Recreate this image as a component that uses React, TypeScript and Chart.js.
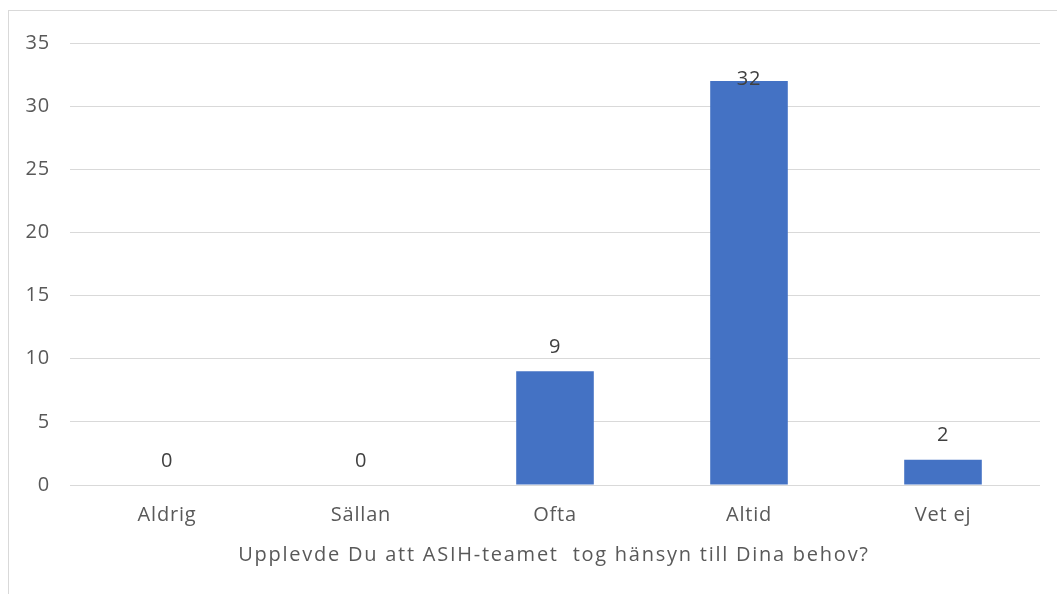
import React, { useEffect, useRef } from "react";
import { Chart, registerables } from "chart.js";

Chart.register(...registerables);

const categories = ["Aldrig", "Sällan", "Ofta", "Altid", "Vet ej"];
const values = [0, 0, 9, 32, 2];
const yTicks = [0, 5, 10, 15, 20, 25, 30, 35];
const axisTitle = "Upplevde Du att ASIH-teamet  tog hänsyn till Dina behov?";

const FONT = "'Open Sans', 'Noto Sans', sans-serif";
const FONT_SIZE = 20;

const textSpacing = {
  id: "textSpacing",
  beforeDraw(chart: any) {
    (chart.ctx as any).letterSpacing = "0.8px";
  },
};

const dataLabels = {
  id: "dataLabels",
  afterDatasetsDraw(chart: any) {
    const ctx = chart.ctx;
    const meta = chart.getDatasetMeta(0);
    const area = chart.chartArea;
    ctx.save();
    ctx.font = `${FONT_SIZE}px ${FONT}`;
    ctx.fillStyle = "#404040";
    ctx.textAlign = "center";
    ctx.textBaseline = "middle";
    meta.data.forEach((bar: any, i: number) => {
      const y = Math.max(bar.y - 24, area.top + 36);
      ctx.fillText(String(values[i]), bar.x, y);
    });
    ctx.restore();
  },
};

const axisTitlePlugin = {
  id: "axisTitlePlugin",
  afterDraw(chart: any) {
    const ctx = chart.ctx;
    const area = chart.chartArea;
    ctx.save();
    (ctx as any).letterSpacing = "1.75px";
    ctx.font = `${FONT_SIZE}px ${FONT}`;
    ctx.fillStyle = "#595959";
    ctx.textAlign = "center";
    ctx.textBaseline = "middle";
    ctx.fillText(axisTitle, (area.left + area.right) / 2 - 1, area.bottom + 70);
    ctx.restore();
  },
};

export default function App() {
  const ref = useRef<HTMLCanvasElement | null>(null);
  useEffect(() => {
    if (!ref.current) return;
    const chart = new Chart(ref.current, {
      type: "bar",
      data: {
        labels: categories,
        datasets: [
          {
            data: values,
            backgroundColor: "#4472C4",
            barPercentage: 0.4,
            categoryPercentage: 1,
          },
        ],
      },
      options: {
        animation: false,
        responsive: false,
        maintainAspectRatio: false,
        layout: { padding: { top: 26, right: 17, left: 0, bottom: 0 } },
        plugins: {
          legend: { display: false },
          tooltip: { enabled: false },
        },
        scales: {
          x: {
            grid: { display: false, drawTicks: false },
            border: { display: false },
            ticks: {
              color: "#595959",
              font: { family: FONT, size: FONT_SIZE },
              padding: 18,
            },
            title: { display: false, text: axisTitle },
            afterFit: (s: any) => {
              s.height = 109;
            },
          },
          y: {
            min: 0,
            max: 35,
            afterBuildTicks: (s: any) => {
              s.ticks = yTicks.map((v) => ({ value: v }));
            },
            grid: { color: "#d9d9d9", drawTicks: false, lineWidth: 1 },
            border: { display: false },
            ticks: {
              color: "#595959",
              font: { family: FONT, size: FONT_SIZE },
              padding: 20,
            },
            afterFit: (s: any) => {
              s.width = 61;
            },
          },
        },
      },
      plugins: [textSpacing, dataLabels, axisTitlePlugin],
    });
    return () => chart.destroy();
  }, []);

  return (
    <div
      style={{
        position: "fixed",
        left: 8,
        top: 10,
        width: 1100,
        height: 650,
        borderLeft: "1px solid #d9d9d9",
        borderTop: "1px solid #d9d9d9",
        background: "#fff",
      }}
    >
      <canvas ref={ref} width={1048} height={583} style={{ display: "block" }} />
    </div>
  );
}
